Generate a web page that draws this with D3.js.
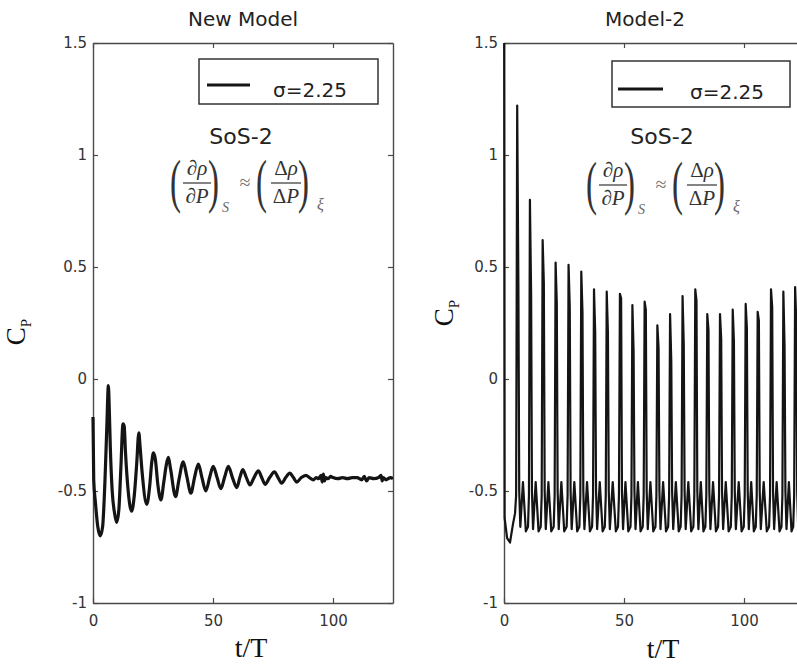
<!DOCTYPE html>
<html><head><meta charset="utf-8">
<script src="https://cdn.jsdelivr.net/npm/d3@7"></script>
<style>body{margin:0;background:#fff}svg{display:block}</style>
</head><body>
<svg id="chart" width="797" height="667"></svg>
<script>
// ---- data ----
const panelTitles = ["New Model", "Model-2"];
const legendLabel = "σ=2.25";
const noteLabel = "SoS-2";
const xTicks = [0, 50, 100];
const yTicks = [-1, -0.5, 0, 0.5, 1, 1.5];
const yTickLabels = ["-1", "-0.5", "0", "0.5", "1", "1.5"];
const xDomain = [0, 125];
const yDomain = [-1, 1.5];

// New Model: C_P vs t/T
const leftT = [0,0.3,1.0,2.0,3.0,4.0,5.0,5.8,6.4,6.8,7.2,8.0,9.0,9.9,10.8,11.6,12.5,13.0,13.5,14.5,16.1,17.2,18.2,19.1,19.6,20.5,22.4,23.6,24.5,25.2,26.0,27.0,28.3,29.5,30.6,31.4,32.3,34.4,35.8,37.6,39.0,40.8,42.3,43.9,45.4,47.0,48.6,50.1,51.7,53.3,54.8,56.4,58.1,59.9,61.2,62.4,63.9,65.4,67.1,68.9,70.3,71.7,73.6,75.6,77.1,78.6,80.3,82.0,83.5,84.9,86.8,88.7,90.2,91.8,93.0,94.0,95.0,95.5,96.0,96.5,97.0,98.0,99.0,100,102,104,106,108,110,112,113,114,115,117,119,120,120.5,121,122,124,125];
const leftCp = [-0.17,-0.45,-0.55,-0.66,-0.70,-0.66,-0.45,-0.20,-0.03,-0.14,-0.30,-0.50,-0.60,-0.64,-0.58,-0.40,-0.20,-0.21,-0.32,-0.48,-0.59,-0.52,-0.38,-0.24,-0.30,-0.42,-0.56,-0.48,-0.37,-0.33,-0.36,-0.47,-0.54,-0.46,-0.38,-0.35,-0.40,-0.525,-0.45,-0.37,-0.43,-0.51,-0.44,-0.38,-0.44,-0.50,-0.44,-0.39,-0.44,-0.49,-0.44,-0.39,-0.44,-0.485,-0.44,-0.405,-0.44,-0.473,-0.44,-0.41,-0.44,-0.47,-0.44,-0.415,-0.44,-0.465,-0.44,-0.42,-0.44,-0.46,-0.44,-0.43,-0.44,-0.45,-0.44,-0.445,-0.43,-0.46,-0.425,-0.455,-0.44,-0.445,-0.435,-0.44,-0.445,-0.44,-0.445,-0.44,-0.44,-0.45,-0.435,-0.455,-0.44,-0.445,-0.44,-0.43,-0.455,-0.44,-0.45,-0.44,-0.445];

// Model-2: C_P vs t/T
const rightT = [0,0.05,0.25,1.3,2.5,3.7,4.6,5.05,
5.5,6.0,6.35,6.8,7.9,9.1,10.0,10.4,
10.8,11.3,11.65,12.1,13.2,14.4,15.3,15.7,
16.1,16.6,16.95,17.4,18.5,19.7,20.7,21.1,
21.5,22.0,22.35,22.8,23.9,25.1,26.1,26.5,
26.9,27.4,27.75,28.2,29.3,30.5,31.4,31.8,
32.2,32.7,33.05,33.5,34.6,35.8,36.7,37.1,
37.5,38.0,38.35,38.8,39.9,41.1,42.0,42.4,
42.8,43.3,43.65,44.1,45.3,46.6,47.5,47.9,
48.3,48.8,49.15,49.6,50.6,51.8,52.7,53.1,
53.5,54.0,54.35,54.8,55.8,56.9,57.8,58.2,
58.6,59.1,59.45,59.9,61.0,62.2,63.1,63.5,
63.9,64.4,64.75,65.2,66.3,67.5,68.4,68.8,
69.2,69.7,70.05,70.5,71.6,72.8,73.6,74.0,
74.4,74.9,75.25,75.7,76.8,78.0,78.9,79.3,
79.7,80.2,80.55,81.0,82.0,83.1,83.9,84.3,
84.7,85.2,85.55,86.0,87.1,88.3,89.2,89.6,
90.0,90.5,90.85,91.3,92.4,93.6,94.5,94.9,
95.3,95.8,96.15,96.6,97.8,99.0,99.9,100.3,
100.7,101.2,101.55,102.0,103.0,104.1,104.9,105.3,
105.7,106.2,106.55,107.0,108.2,109.5,110.45,110.85,
111.25,111.75,112.1,112.55,113.6,114.8,115.6,116.0,
116.4,116.9,117.25,117.7,118.7,119.8,120.5,120.9,
121.3,121.8,122.15,122.6,123.7,125];
const rightCp = [1.8,1.8,-0.62,-0.71,-0.73,-0.65,-0.60,-0.52,
1.22,0.40,-0.50,-0.66,-0.46,-0.68,-0.66,-0.52,
0.80,0.38,-0.50,-0.67,-0.46,-0.68,-0.66,-0.52,
0.62,0.43,-0.50,-0.67,-0.46,-0.68,-0.66,-0.52,
0.52,0.34,-0.50,-0.67,-0.46,-0.68,-0.66,-0.52,
0.51,0.32,-0.50,-0.67,-0.46,-0.68,-0.66,-0.52,
0.48,0.30,-0.50,-0.67,-0.46,-0.68,-0.66,-0.52,
0.40,0.21,-0.50,-0.67,-0.46,-0.68,-0.66,-0.52,
0.39,0.21,-0.50,-0.67,-0.46,-0.68,-0.66,-0.52,
0.38,0.36,-0.50,-0.67,-0.46,-0.68,-0.66,-0.52,
0.33,0.12,-0.50,-0.67,-0.46,-0.68,-0.66,-0.52,
0.345,0.31,-0.50,-0.67,-0.46,-0.68,-0.66,-0.52,
0.24,0.14,-0.50,-0.67,-0.46,-0.68,-0.66,-0.52,
0.29,0.08,-0.50,-0.67,-0.46,-0.68,-0.66,-0.52,
0.37,0.15,-0.50,-0.67,-0.46,-0.68,-0.66,-0.52,
0.40,0.35,-0.50,-0.67,-0.46,-0.68,-0.66,-0.52,
0.29,0.22,-0.50,-0.67,-0.46,-0.68,-0.66,-0.52,
0.29,0.18,-0.50,-0.67,-0.46,-0.68,-0.66,-0.52,
0.31,0.17,-0.50,-0.67,-0.46,-0.68,-0.66,-0.52,
0.335,0.23,-0.50,-0.67,-0.46,-0.68,-0.66,-0.52,
0.30,0.26,-0.50,-0.67,-0.46,-0.68,-0.66,-0.52,
0.40,0.32,-0.50,-0.67,-0.46,-0.68,-0.66,-0.52,
0.39,0.15,-0.50,-0.67,-0.46,-0.68,-0.66,-0.52,
0.41,0.25,-0.50,-0.67,-0.46,-0.68];

// ---- layout ----
const svg = d3.select("#chart");
svg.append("rect").attr("width",797).attr("height",667).attr("fill","#fff");
const plotTop = 43, plotBottom = 603, plotW = 300;
const panels = [
  {x0: 93, title: panelTitles[0], t: leftT, v: leftCp, lw: 3.2, curve: d3.curveMonotoneX, titleX: 243,
   legend: {x: 199, y: 59, w: 179, h: 45, lx1: 207, lx2: 250, ly: 85, tx: 273, ty: 97},
   note: {x: 241, y: 144}, formula: {x: 250, y: 183},
   ylab: {x: 25, y: 332}, xlab: {x: 251, y: 657}},
  {x0: 504, title: panelTitles[1], t: rightT, v: rightCp, lw: 2.2, curve: d3.curveLinear, titleX: 645,
   legend: {x: 612, y: 61, w: 178, h: 46, lx1: 618, lx2: 663, ly: 89, tx: 690, ty: 99},
   note: {x: 662, y: 144}, formula: {x: 666, y: 185},
   ylab: {x: 453, y: 313}, xlab: {x: 663, y: 658}}
];

const axisColor = "#4a4a4a", textColor = "#333";
const sans = "'DejaVu Sans', Verdana, sans-serif";
const serif = "'Liberation Serif', 'Times New Roman', serif";

panels.forEach((p, i) => {
  const x = d3.scaleLinear().domain(xDomain).range([p.x0, p.x0 + plotW]);
  const y = d3.scaleLinear().domain(yDomain).range([plotBottom, plotTop]);
  const g = svg.append("g");

  const clipId = "clip" + i;
  svg.append("clipPath").attr("id", clipId).append("rect")
    .attr("x", p.x0 - 3).attr("y", plotTop).attr("width", plotW + 3).attr("height", plotBottom - plotTop);

  // frame axes (inward ticks)
  const fmtY = d => yTickLabels[yTicks.indexOf(d)];
  const styleAxis = sel => {
    sel.selectAll("path.domain").attr("stroke", axisColor).attr("stroke-width", 1.4);
    sel.selectAll(".tick line").attr("stroke", axisColor).attr("stroke-width", 1.2);
    sel.selectAll(".tick text").attr("fill", textColor).style("font-family", sans).style("font-size", "15px");
  };
  g.append("g").attr("transform", `translate(0,${plotBottom})`)
    .call(d3.axisBottom(x).tickValues(xTicks).tickFormat(d3.format("d")).tickSizeInner(-5).tickSizeOuter(0).tickPadding(12))
    .call(styleAxis);
  g.append("g").attr("transform", `translate(0,${plotTop})`)
    .call(d3.axisTop(x).tickValues(xTicks).tickFormat("").tickSizeInner(-5).tickSizeOuter(0))
    .call(styleAxis);
  g.append("g").attr("transform", `translate(${p.x0},0)`)
    .call(d3.axisLeft(y).tickValues(yTicks).tickFormat(fmtY).tickSizeInner(-5).tickSizeOuter(0).tickPadding(6))
    .call(styleAxis);
  g.append("g").attr("transform", `translate(${p.x0 + plotW},0)`)
    .call(d3.axisRight(y).tickValues(yTicks).tickFormat("").tickSizeInner(-5).tickSizeOuter(0))
    .call(styleAxis);

  // data line
  const pts = p.t.map((t, k) => [t, p.v[k]]);
  g.append("path").datum(pts)
    .attr("clip-path", `url(#${clipId})`)
    .attr("fill", "none").attr("stroke", "#141414").attr("stroke-width", p.lw)
    .attr("stroke-linejoin", "round")
    .attr("d", d3.line().curve(p.curve).x(d => x(d[0])).y(d => y(d[1])));

  // title
  g.append("text").attr("x", p.titleX).attr("y", 26).attr("text-anchor", "middle")
    .style("font-family", sans).style("font-size", "20px").attr("fill", "#222").text(p.title);

  // legend
  const L = p.legend;
  g.append("rect").attr("x", L.x).attr("y", L.y).attr("width", L.w).attr("height", L.h)
    .attr("fill", "#fff").attr("stroke", "#333").attr("stroke-width", 1.5);
  g.append("line").attr("x1", L.lx1).attr("x2", L.lx2).attr("y1", L.ly).attr("y2", L.ly)
    .attr("stroke", "#141414").attr("stroke-width", 3);
  g.append("text").attr("x", L.tx).attr("y", L.ty)
    .style("font-family", sans).style("font-size", "20px").attr("fill", "#222").text(legendLabel);

  // annotation
  g.append("text").attr("x", p.note.x).attr("y", p.note.y).attr("text-anchor", "middle")
    .style("font-family", sans).style("font-size", "22px").attr("fill", "#222").text(noteLabel);

  // formula (∂ρ/∂P)_S ≈ (Δρ/ΔP)_ξ
  const f = g.append("g").attr("transform", `translate(${p.formula.x},${p.formula.y})`)
    .style("font-family", serif).attr("fill", "#333");
  const paren = (xx, ch) => f.append("text").attr("transform", `translate(${xx},18) scale(0.75,1.35)`)
    .style("font-size", "44px").text(ch);
  paren(-80, "(");
  paren(-42, ")");
  paren(6, "(");
  paren(48, ")");
  const num = (cx, yy, parts) => {
    const t = f.append("text").attr("x", cx).attr("y", yy).attr("text-anchor", "middle").style("font-size", "21px");
    parts.forEach(([s, it]) => t.append("tspan").style("font-style", it ? "italic" : "normal").text(s));
  };
  num(-53, -8, [["∂", false], ["ρ", true]]);
  num(-53, 20, [["∂", false], ["P", true]]);
  num(36, -8, [["Δ", false], ["ρ", true]]);
  num(36, 20, [["Δ", false], ["P", true]]);
  f.append("line").attr("x1", -67).attr("x2", -39).attr("y1", 0).attr("y2", 0).attr("stroke", "#333").attr("stroke-width", 1.2);
  f.append("line").attr("x1", 21).attr("x2", 51).attr("y1", 0).attr("y2", 0).attr("stroke", "#333").attr("stroke-width", 1.2);
  f.append("text").attr("x", -28).attr("y", 29).style("font-size", "14px").style("font-style", "italic").attr("fill", "#666").text("S");
  f.append("text").attr("x", -5).attr("y", 6).attr("text-anchor", "middle").style("font-size", "20px").attr("fill", "#777").text("≈");
  f.append("text").attr("x", 67).attr("y", 27).style("font-size", "16px").style("font-style", "italic").attr("fill", "#666").text("ξ");

  // axis labels
  const yl = g.append("text").attr("transform", `translate(${p.ylab.x},${p.ylab.y}) rotate(-90)`)
    .attr("text-anchor", "middle").style("font-family", serif).style("font-size", "27px").attr("fill", "#111");
  yl.append("tspan").text("C");
  yl.append("tspan").attr("dy", 6).style("font-size", "15px").text("P");
  g.append("text").attr("x", p.xlab.x).attr("y", p.xlab.y).attr("text-anchor", "middle")
    .style("font-family", serif).style("font-size", "28px").attr("fill", "#111").text("t/T");
});
</script>
</body></html>
